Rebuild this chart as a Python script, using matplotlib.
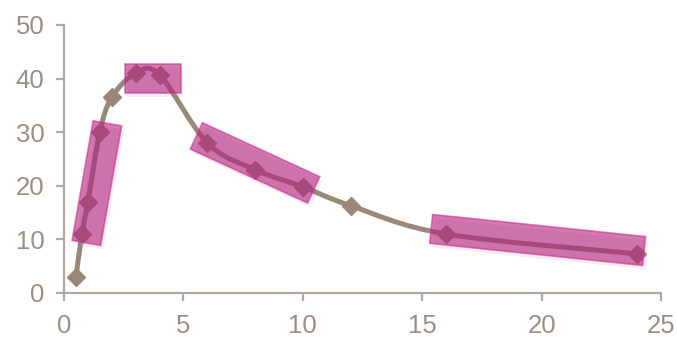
"""Concentration-time curve with highlighted segments."""
import numpy as np
import matplotlib
matplotlib.use("Agg")
import matplotlib.pyplot as plt
from matplotlib.path import Path
from matplotlib.patches import PathPatch, Polygon
import matplotlib.patheffects as pe

# data
time_h = [0.5, 0.75, 1, 1.5, 2, 3, 4, 6, 8, 10, 12, 16, 24]
conc = [3, 11, 17, 30, 36.5, 41, 40.7, 28, 23, 19.8, 16.3, 11, 7.3]

x_ticks = [0, 5, 10, 15, 20, 25]
y_ticks = [0, 10, 20, 30, 40, 50]

# highlighted groups: first index, last index, horizontal?, end pad px, shift px
highlights = [
    (1, 3, False, 9, (6, 0)),
    (5, 6, True, 16, (5, -4)),
    (7, 9, False, 12, (0, 2)),
    (11, 12, False, 11, (-4, 4)),
]

LINE = "#998877"
AXIS = "#B5A99F"
TEXT = "#9C8E80"
FILL = "#B4207C"
EDGE = "#D4289A"


def smooth_path(xs, ys, tension=1 / 6):
    """Excel-like smoothed line as a cubic Bezier path."""
    pts = np.column_stack([xs, ys]).astype(float)
    verts = [pts[0]]
    codes = [Path.MOVETO]
    n = len(pts)
    for i in range(n - 1):
        p0 = pts[i - 1] if i > 0 else pts[i]
        p1, p2 = pts[i], pts[i + 1]
        p3 = pts[i + 2] if i + 2 < n else pts[i + 1]
        c1 = p1 + (p2 - p0) * tension
        c2 = p2 - (p3 - p1) * tension
        verts += [c1, c2, p2]
        codes += [Path.CURVE4] * 3
    return Path(verts, codes)


fig = plt.figure(figsize=(6.77, 3.38), dpi=100)
ax = fig.add_axes([64 / 677, 1 - 293 / 338, 597 / 677, 268 / 338])
ax.set_xlim(0, 25)
ax.set_ylim(0, 50)

ax.add_patch(PathPatch(smooth_path(time_h, conc), facecolor="none",
                       edgecolor=LINE, lw=3.6, zorder=2))
ax.plot(time_h, conc, ls="none", marker="D", ms=9.5, color=LINE, zorder=3)

for side in ("top", "right"):
    ax.spines[side].set_visible(False)
for side in ("left", "bottom"):
    ax.spines[side].set_color(AXIS)
    ax.spines[side].set_linewidth(1.6)
ax.set_xticks(x_ticks)
ax.set_yticks(y_ticks)
ax.tick_params(colors=AXIS, width=1.6, length=6, labelcolor=TEXT,
               labelsize=18.5)
ax.tick_params(axis="x", pad=9)
ax.tick_params(axis="y", pad=8)
for lab in ax.get_xticklabels() + ax.get_yticklabels():
    lab.set_family("Liberation Sans")

# rotated highlight boxes, built in display space around the data points
fig.canvas.draw()
disp = ax.transData.transform(np.column_stack([time_h, conc]))
for i0, i1, flat, pad, shift in highlights:
    a, b = disp[i0], disp[i1]
    d = b - a
    if flat:
        d = np.array([abs(d[0]), 0.0])
    u = d / np.hypot(*d)
    nrm = np.array([-u[1], u[0]])
    c = (a + b) / 2 + np.array(shift, dtype=float)
    half_len = np.hypot(*(b - a)) / 2 + pad
    half_w = 14.5
    corners = [c - u * half_len - nrm * half_w, c + u * half_len - nrm * half_w,
               c + u * half_len + nrm * half_w, c - u * half_len + nrm * half_w]
    poly = Polygon(corners, closed=True, transform=None, facecolor=FILL,
                   alpha=0.6, edgecolor=EDGE, lw=1.2, zorder=4)
    poly.set_path_effects([pe.SimplePatchShadow(offset=(2, -3), alpha=0.12,
                                                shadow_rgbFace="#808080"),
                           pe.Normal()])
    fig.add_artist(poly)

fig.savefig("out.png", dpi=100)
